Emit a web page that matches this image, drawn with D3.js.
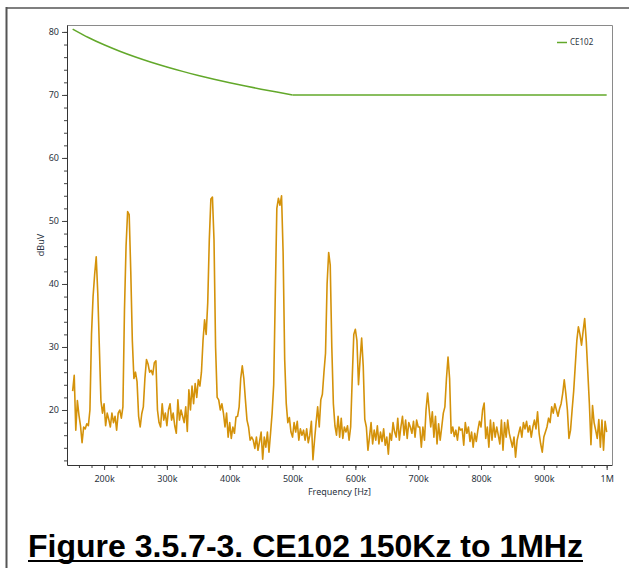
<!DOCTYPE html>
<html>
<head>
<meta charset="utf-8">
<script src="https://cdn.jsdelivr.net/npm/d3@7"></script>
<style>
  html, body { margin: 0; padding: 0; background: #fff; }
  svg { display: block; }
</style>
</head>
<body>
<div id="chart"></div>
<script>
var svgSelector = "#chart";
var default_width = 629;
var default_height = 568;

// measured trace: one value every 2.5 kHz starting at 150 kHz
var traceStart = 150000;
var traceStep = 2500;
var traceValues = [
    23, 25.5, 16.8, 21.5, 19.2, 17.5, 14.8, 17.3, 17, 17.8, 17.5, 20, 32, 38, 41.5, 44.3, 38.5, 30, 21.5, 19.5,
    21, 17.5, 19.5, 18.5, 17.3, 19.5, 18, 19, 16.8, 19.5, 20, 18.7, 20.5, 36, 46, 51.5, 51, 42, 31, 25,
    26, 24.5, 19, 17.3, 19.4, 20.5, 25, 28, 27.3, 26, 26.3, 25.6, 27.5, 27.8, 20, 18, 17.3, 21, 18.4, 19.5,
    17.5, 20, 21, 18.4, 19.5, 17.5, 16.3, 21.6, 18.4, 20, 19, 18, 20.5, 16.6, 23.2, 20, 23.8, 21, 24.2, 22,
    24.8, 23.8, 26, 31, 34.3, 32, 37, 47, 53.5, 53.8, 47, 30, 22, 21.6, 20, 21, 19.5, 17.3, 19.5, 15.7,
    18, 15.5, 17.3, 16.3, 18.9, 19, 20.5, 25, 27, 25, 21.6, 18.4, 17.3, 15.2, 15.7, 15.2, 13.9, 15.7, 13.6, 15,
    16.5, 12.2, 15.7, 14.1, 16.5, 13.3, 16.3, 19.5, 24, 38, 52, 53.6, 52.5, 54, 45, 28, 21, 18, 18.8, 16.5,
    15.7, 18, 16.5, 18.2, 15.2, 17, 16, 16.8, 15.2, 17, 14.8, 16, 18.2, 12.1, 15.2, 18, 20.5, 17.3, 21.6, 22.5,
    26, 29, 40, 45, 43, 30, 21, 17.5, 16, 19, 15.7, 18.7, 15.5, 17.3, 16.5, 17.5, 15.2, 17.3, 25, 32,
    32.8, 31, 24, 28, 31.4, 27, 18.5, 17.3, 13.6, 15.7, 18, 14.6, 16.8, 15.2, 17.5, 14.6, 16.5, 15, 17, 14.4,
    15.7, 13, 16.3, 15.2, 18, 16.5, 15.7, 18.7, 15.2, 17.3, 19, 16, 18.4, 15.5, 18, 17.3, 16.3, 18.2, 15.7, 18.4,
    17.3, 17.3, 14.1, 17.3, 15.2, 20, 22.7, 20, 17.3, 19.7, 15.7, 19, 14.6, 17.8, 15.2, 17.3, 19.5, 20.5, 25, 28.4,
    25, 16.3, 17.3, 15.8, 16.8, 15.2, 17.3, 16.8, 17, 14.4, 18, 16.3, 17.3, 15, 16.5, 14.1, 16.3, 15, 16.8, 18.2,
    17.3, 20, 21.1, 15.5, 17.3, 14.1, 18.4, 15.2, 18, 15.7, 17.3, 16, 14.6, 18.4, 13.6, 18, 15.7, 18.4, 16.3, 15.2,
    14.1, 15.7, 12.5, 15.2, 16.3, 17.3, 15.7, 18, 17, 18.2, 16.5, 17.5, 15.7, 17.3, 18.4, 17, 19.7, 16.3, 14.6, 13.3,
    15.7, 16.5, 17.3, 18.7, 18, 20.5, 19.5, 21, 20, 19, 20.2, 21, 22.6, 24.8, 22.6, 20, 15.5, 16.8, 20, 23,
    27, 31, 33.2, 32, 30.3, 32.5, 34.5, 31, 26, 21, 14.5, 20.7, 18, 16.8, 15.5, 18.5, 14.1, 18.4, 13.6, 18.2, 16.5
];

// CE102 limit (falling part, then flat from 500 kHz)
var limitFreqs = [150e3, 175e3, 200e3, 225e3, 250e3, 275e3, 300e3, 325e3, 350e3, 375e3, 400e3, 425e3, 450e3, 475e3, 500e3, 1000e3];
var limitValues = [80.46, 79.12, 77.96, 76.94, 76.02, 75.19, 74.44, 73.74, 73.10, 72.50, 71.94, 71.41, 70.92, 70.45, 70.0, 70.0];

var xTickValues = [200e3, 300e3, 400e3, 500e3, 600e3, 700e3, 800e3, 900e3, 1000e3];
var xTickLabels = ["200k", "300k", "400k", "500k", "600k", "700k", "800k", "900k", "1M"];
var yTickValues = [20, 30, 40, 50, 60, 70, 80];
var yTickLabels = ["20", "30", "40", "50", "60", "70", "80"];

var seriesName = "CE102";
var caption = "Figure 3.5.7-3. CE102 150Kz to 1MHz";

////////////////////////////////////////////////////////////////////////////////////////////////

function drawChart(htmlSelector, w, h) {
    var svg = d3.select(htmlSelector).append("svg")
        .attr("width", w)
        .attr("height", h);

    var plot = {left: 67, top: 25, right: 612, bottom: 465};
    var font = "'Segoe UI', 'Noto Sans', sans-serif";
    var textColor = "#2a3340";
    var limitColor = "#62a82a";

    // page frame (top and left edges)
    svg.append("line").attr("x1", 6).attr("x2", w).attr("y1", 8).attr("y2", 8)
        .attr("stroke", "#555").attr("stroke-width", 1.5);
    svg.append("line").attr("x1", 6.5).attr("x2", 6.5).attr("y1", 7).attr("y2", h)
        .attr("stroke", "#555").attr("stroke-width", 2);

    var x = d3.scaleLinear().domain([141e3, 1008.5e3]).range([plot.left, plot.right]);
    var y = d3.scaleLinear().domain([11.27, 81.1]).range([plot.bottom, plot.top]);

    // plot frame top / right
    svg.append("path")
        .attr("d", "M" + plot.left + "," + (plot.top + 0.5) + "H" + (plot.right + 0.5) + "V" + plot.bottom)
        .attr("fill", "none")
        .attr("stroke", "#8a8a8a")
        .attr("stroke-width", 1);

    var traceData = traceValues.map(function(v, i) {
        return {f: traceStart + i * traceStep, v: v};
    });
    var limitData = limitFreqs.map(function(f, i) {
        return {f: f, v: limitValues[i]};
    });

    var line = d3.line()
        .x(function(d) { return x(d.f); })
        .y(function(d) { return y(d.v); });

    svg.append("path")
        .datum(traceData)
        .attr("fill", "none")
        .attr("stroke", "#d4920a")
        .attr("stroke-width", 1.6)
        .attr("stroke-linejoin", "round")
        .attr("d", line);

    // falling part smooth, flat part straight
    var bend = limitFreqs.indexOf(500e3);
    svg.append("path")
        .datum(limitData.slice(0, bend + 1))
        .attr("fill", "none")
        .attr("stroke", limitColor)
        .attr("stroke-width", 1.5)
        .attr("d", line.curve(d3.curveNatural));
    svg.append("path")
        .datum(limitData.slice(bend))
        .attr("fill", "none")
        .attr("stroke", limitColor)
        .attr("stroke-width", 1.5)
        .attr("d", line.curve(d3.curveLinear));

    // minor ticks
    var xMinor = d3.range(160e3, 1000e3 + 1, 20e3);
    var yMinor = d3.range(12, 81, 2);

    svg.append("g")
        .attr("transform", "translate(0," + plot.bottom + ")")
        .call(d3.axisBottom(x).tickValues(xMinor).tickSize(3).tickFormat(""))
        .call(function(g) { g.select(".domain").remove(); });
    svg.append("g")
        .attr("transform", "translate(" + plot.left + ",0)")
        .call(d3.axisLeft(y).tickValues(yMinor).tickSize(3).tickFormat(""))
        .call(function(g) { g.select(".domain").remove(); });

    var xAxis = svg.append("g")
        .attr("transform", "translate(0," + plot.bottom + ")")
        .call(d3.axisBottom(x).tickValues(xTickValues).tickSizeInner(5).tickSizeOuter(0)
            .tickFormat(function(d, i) { return xTickLabels[i]; }));
    var yAxis = svg.append("g")
        .attr("transform", "translate(" + plot.left + ",0)")
        .call(d3.axisLeft(y).tickValues(yTickValues).tickSizeInner(5).tickSizeOuter(0)
            .tickFormat(function(d, i) { return yTickLabels[i]; }));

    svg.selectAll(".tick line").attr("stroke", "#444");
    svg.selectAll(".domain").attr("stroke", "#333");
    xAxis.selectAll("text").attr("font-family", font).attr("font-size", 9).attr("fill", textColor).attr("dy", "1.05em");
    yAxis.selectAll("text").attr("font-family", font).attr("font-size", 9).attr("fill", textColor).attr("x", -8);

    svg.append("text")
        .attr("x", (plot.left + plot.right) / 2)
        .attr("y", 495)
        .attr("text-anchor", "middle")
        .attr("font-family", font)
        .attr("font-size", 9)
        .attr("fill", textColor)
        .text("Frequency [Hz]");

    svg.append("text")
        .attr("transform", "translate(44,245) rotate(-90)")
        .attr("text-anchor", "middle")
        .attr("font-family", font)
        .attr("font-size", 9)
        .attr("fill", textColor)
        .text("dBuV");

    // legend
    svg.append("line")
        .attr("x1", 557).attr("x2", 567).attr("y1", 42.5).attr("y2", 42.5)
        .attr("stroke", limitColor).attr("stroke-width", 1.5);
    svg.append("text")
        .attr("x", 570)
        .attr("y", 42.5)
        .attr("dy", "0.35em")
        .attr("font-family", font)
        .attr("font-size", 8)
        .attr("fill", textColor)
        .text(seriesName);

    // caption
    svg.append("text")
        .attr("x", 28)
        .attr("y", 557)
        .attr("font-family", "'Liberation Sans', Arial, sans-serif")
        .attr("font-weight", "bold")
        .attr("font-size", 31)
        .attr("textLength", 555)
        .attr("lengthAdjust", "spacingAndGlyphs")
        .attr("fill", "#000")
        .text(caption);
    svg.append("line")
        .attr("x1", 28).attr("x2", 583).attr("y1", 561).attr("y2", 561)
        .attr("stroke", "#000").attr("stroke-width", 2);
}

drawChart(svgSelector, default_width, default_height);
</script>
</body>
</html>
